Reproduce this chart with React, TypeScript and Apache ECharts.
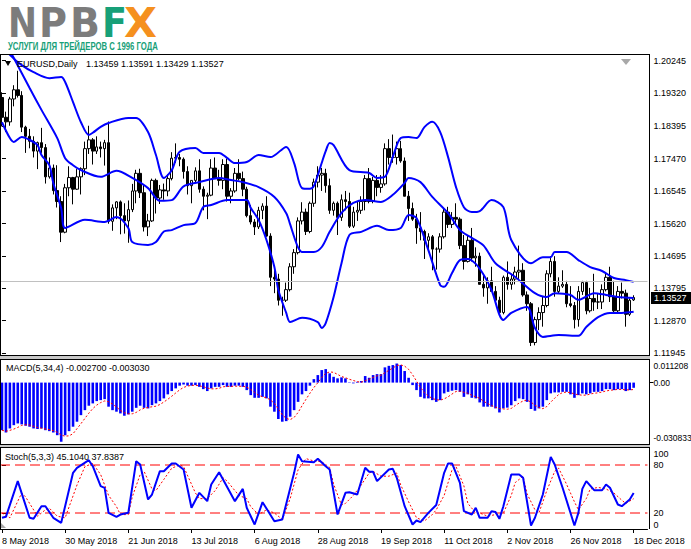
import React, { useEffect, useRef } from 'react';
import * as echarts from 'echarts';

const FONT = '"Liberation Sans", Arial, sans-serif';

const dateLabels = ['8 May 2018', '30 May 2018', '21 Jun 2018', '13 Jul 2018', '6 Aug 2018', '28 Aug 2018', '19 Sep 2018', '11 Oct 2018', '2 Nov 2018', '26 Nov 2018', '18 Dec 2018'];
const priceTicks = ['1.11945', '1.12870', '1.13795', '1.14695', '1.15620', '1.16545', '1.17470', '1.18395', '1.19320', '1.20245'];
const macdTicks = ['-0.030833', '0.00', '0.011208'];
const stochTicks = ['0', '20', '80', '100'];
const stochLevels = [20, 80];
const lastPrice = 1.13527;

// daily candles, [open, high, low, close]
const ohlc = [
  [1.1920, 1.1935, 1.1838, 1.1864], [1.1864, 1.1880, 1.1822, 1.1851], [1.1851, 1.1922, 1.1840, 1.1916], [1.1916, 1.1955, 1.1895, 1.1942],
  [1.1942, 1.1996, 1.1920, 1.1926], [1.1926, 1.1938, 1.1822, 1.1836], [1.1836, 1.1840, 1.1763, 1.1810], [1.1810, 1.1831, 1.1776, 1.1796],
  [1.1796, 1.1810, 1.1750, 1.1768], [1.1768, 1.1795, 1.1717, 1.1792], [1.1792, 1.1834, 1.1763, 1.1778], [1.1778, 1.1788, 1.1676, 1.1695],
  [1.1695, 1.1750, 1.1690, 1.1720], [1.1720, 1.1730, 1.1645, 1.1656], [1.1656, 1.1728, 1.1608, 1.1625], [1.1625, 1.1640, 1.1510, 1.1538],
  [1.1538, 1.1675, 1.1535, 1.1664], [1.1664, 1.1725, 1.1640, 1.1693], [1.1693, 1.1695, 1.1617, 1.1660], [1.1660, 1.1717, 1.1658, 1.1695],
  [1.1695, 1.1722, 1.1645, 1.1718], [1.1718, 1.1795, 1.1700, 1.1775], [1.1775, 1.1840, 1.1760, 1.1800], [1.1800, 1.1805, 1.1730, 1.1768],
  [1.1768, 1.1810, 1.1760, 1.1780], [1.1780, 1.1795, 1.1750, 1.1775], [1.1775, 1.1800, 1.1727, 1.1792], [1.1792, 1.1852, 1.1562, 1.1569],
  [1.1569, 1.1617, 1.1542, 1.1607], [1.1607, 1.1626, 1.1575, 1.1624], [1.1624, 1.1628, 1.1532, 1.1585], [1.1585, 1.1620, 1.1534, 1.1570],
  [1.1570, 1.1628, 1.1508, 1.1602], [1.1602, 1.1675, 1.1595, 1.1655], [1.1655, 1.1715, 1.1620, 1.1705], [1.1705, 1.1718, 1.1635, 1.1650],
  [1.1650, 1.1672, 1.1540, 1.1553], [1.1553, 1.1590, 1.1527, 1.1570], [1.1570, 1.1690, 1.1567, 1.1685], [1.1685, 1.1690, 1.1591, 1.1635],
  [1.1635, 1.1672, 1.1618, 1.1658], [1.1658, 1.1676, 1.1630, 1.1655], [1.1655, 1.1702, 1.1640, 1.1690], [1.1690, 1.1765, 1.1685, 1.1748],
  [1.1748, 1.1790, 1.1735, 1.1750], [1.1750, 1.1760, 1.1725, 1.1745], [1.1745, 1.1750, 1.1690, 1.1710], [1.1710, 1.1725, 1.1645, 1.1670],
  [1.1670, 1.1685, 1.1620, 1.1685], [1.1685, 1.1722, 1.1680, 1.1712], [1.1712, 1.1745, 1.1650, 1.1660], [1.1660, 1.1668, 1.1600, 1.1640],
  [1.1640, 1.1650, 1.1575, 1.1643], [1.1643, 1.1745, 1.1640, 1.1720], [1.1720, 1.1750, 1.1695, 1.1690], [1.1690, 1.1715, 1.1670, 1.1685],
  [1.1685, 1.1745, 1.1660, 1.1730], [1.1730, 1.1747, 1.1625, 1.1640], [1.1640, 1.1663, 1.1620, 1.1655], [1.1655, 1.1720, 1.1650, 1.1705],
  [1.1705, 1.1745, 1.1685, 1.1690], [1.1690, 1.1710, 1.1640, 1.1660], [1.1660, 1.1667, 1.1580, 1.1585], [1.1585, 1.1615, 1.1560, 1.1567],
  [1.1567, 1.1575, 1.1530, 1.1553], [1.1553, 1.1610, 1.1547, 1.1600], [1.1600, 1.1620, 1.1575, 1.1612], [1.1612, 1.1640, 1.1525, 1.1527],
  [1.1527, 1.1535, 1.1385, 1.1410], [1.1410, 1.1430, 1.1365, 1.1405], [1.1405, 1.1420, 1.1330, 1.1345], [1.1345, 1.1355, 1.1301, 1.1345],
  [1.1345, 1.1395, 1.1340, 1.1375], [1.1375, 1.1450, 1.1370, 1.1440], [1.1440, 1.1490, 1.1420, 1.1480], [1.1480, 1.1580, 1.1475, 1.1570],
  [1.1570, 1.1623, 1.1560, 1.1595], [1.1595, 1.1605, 1.1530, 1.1540], [1.1540, 1.1625, 1.1535, 1.1620], [1.1620, 1.1690, 1.1610, 1.1680],
  [1.1680, 1.1725, 1.1665, 1.1700], [1.1700, 1.1720, 1.1655, 1.1705], [1.1705, 1.1718, 1.1650, 1.1670], [1.1670, 1.1690, 1.1590, 1.1600],
  [1.1600, 1.1625, 1.1585, 1.1620], [1.1620, 1.1625, 1.1530, 1.1580], [1.1580, 1.1645, 1.1570, 1.1630], [1.1630, 1.1655, 1.1600, 1.1625],
  [1.1625, 1.1650, 1.1550, 1.1555], [1.1555, 1.1610, 1.1550, 1.1595], [1.1595, 1.1625, 1.1570, 1.1600], [1.1600, 1.1640, 1.1590, 1.1625],
  [1.1625, 1.1700, 1.1600, 1.1690], [1.1690, 1.1720, 1.1620, 1.1625], [1.1625, 1.1695, 1.1620, 1.1685], [1.1685, 1.1700, 1.1640, 1.1665],
  [1.1665, 1.1700, 1.1650, 1.1675], [1.1675, 1.1790, 1.1670, 1.1775], [1.1775, 1.1802, 1.1730, 1.1750], [1.1750, 1.1815, 1.1735, 1.1750],
  [1.1750, 1.1795, 1.1730, 1.1775], [1.1775, 1.1797, 1.1735, 1.1740], [1.1740, 1.1750, 1.1640, 1.1640], [1.1640, 1.1655, 1.1570, 1.1605],
  [1.1605, 1.1622, 1.1570, 1.1575], [1.1575, 1.1590, 1.1505, 1.1550], [1.1550, 1.1595, 1.1515, 1.1540], [1.1540, 1.1545, 1.1462, 1.1515],
  [1.1515, 1.1535, 1.1487, 1.1525], [1.1525, 1.1530, 1.1430, 1.1490], [1.1490, 1.1495, 1.1432, 1.1490], [1.1490, 1.1535, 1.1480, 1.1525],
  [1.1525, 1.1607, 1.1520, 1.1595], [1.1595, 1.1610, 1.1550, 1.1560], [1.1560, 1.1595, 1.1550, 1.1580], [1.1580, 1.1620, 1.1560, 1.1575],
  [1.1575, 1.1580, 1.1490, 1.1500], [1.1500, 1.1530, 1.1432, 1.1455], [1.1455, 1.1530, 1.1452, 1.1515], [1.1515, 1.1550, 1.1455, 1.1465],
  [1.1465, 1.1495, 1.1440, 1.1470], [1.1470, 1.1480, 1.1390, 1.1390], [1.1390, 1.1420, 1.1355, 1.1380], [1.1380, 1.1410, 1.1335, 1.1400],
  [1.1400, 1.1440, 1.1370, 1.1370], [1.1370, 1.1385, 1.1340, 1.1345], [1.1345, 1.1355, 1.1300, 1.1310], [1.1310, 1.1415, 1.1305, 1.1410],
  [1.1410, 1.1455, 1.1375, 1.1390], [1.1390, 1.1420, 1.1375, 1.1405], [1.1405, 1.1440, 1.1390, 1.1425], [1.1425, 1.1500, 1.1405, 1.1430],
  [1.1430, 1.1450, 1.1355, 1.1360], [1.1360, 1.1370, 1.1315, 1.1335], [1.1335, 1.1340, 1.1215, 1.1225], [1.1225, 1.1298, 1.1217, 1.1290],
  [1.1290, 1.1325, 1.1260, 1.1310], [1.1310, 1.1355, 1.1270, 1.1330], [1.1330, 1.1430, 1.1325, 1.1420], [1.1420, 1.1470, 1.1410, 1.1455],
  [1.1455, 1.1470, 1.1355, 1.1370], [1.1370, 1.1410, 1.1365, 1.1385], [1.1385, 1.1430, 1.1380, 1.1390], [1.1390, 1.1400, 1.1325, 1.1335],
  [1.1335, 1.1385, 1.1325, 1.1330], [1.1330, 1.1340, 1.1265, 1.1290], [1.1290, 1.1385, 1.1270, 1.1370], [1.1370, 1.1400, 1.1360, 1.1395],
  [1.1395, 1.1400, 1.1305, 1.1315], [1.1315, 1.1380, 1.1310, 1.1350], [1.1350, 1.1420, 1.1315, 1.1340], [1.1340, 1.1365, 1.1320, 1.1340],
  [1.1340, 1.1390, 1.1320, 1.1375], [1.1375, 1.1425, 1.1370, 1.1410], [1.1410, 1.1440, 1.1340, 1.1355], [1.1355, 1.1400, 1.1310, 1.1315],
  [1.1315, 1.1385, 1.1310, 1.1370], [1.1370, 1.1395, 1.1350, 1.1365], [1.1365, 1.1375, 1.1270, 1.1305], [1.1305, 1.1350, 1.1300, 1.1345],
  [1.13459, 1.13591, 1.13429, 1.13527],
];

// Bollinger bands: [bar index, price]
const bbUpper = [
  [0, 1.2069], [2, 1.2041], [5, 1.2012], [8, 1.1992], [12, 1.1975], [15, 1.1978], [16, 1.1964], [18, 1.1907], [20, 1.1850], [22, 1.1814],
  [23, 1.1820], [25, 1.1837], [27, 1.1848], [32, 1.1862], [34, 1.1862], [37, 1.1822], [39, 1.1757], [41, 1.1692], [43, 1.1714], [45, 1.1766],
  [49, 1.1777], [51, 1.1763], [55, 1.1763], [57, 1.1749], [59, 1.1734], [62, 1.1737], [65, 1.1757], [68, 1.1751], [72, 1.1780], [74, 1.1734],
  [76, 1.1663], [78, 1.1661], [79, 1.1669], [80, 1.1700], [81, 1.1735], [82, 1.1768], [83, 1.1791], [84, 1.1785], [88, 1.1714], [93, 1.1706],
  [95, 1.1692], [97, 1.1695], [99, 1.1752], [101, 1.1805], [103, 1.1808], [105, 1.1805], [107, 1.1836], [109, 1.1851], [111, 1.1822], [113, 1.1751],
  [115, 1.1666], [117, 1.1609], [119, 1.1595], [121, 1.1598], [124, 1.1629], [127, 1.1609], [129, 1.1516], [134, 1.1450], [137, 1.1467], [139, 1.1467],
  [140, 1.1482], [143, 1.1482], [146, 1.1459], [149, 1.1439], [152, 1.1428], [155, 1.1408], [158, 1.1402], [160, 1.1397],
];
const bbMiddle = [
  [0, 1.2095], [3, 1.2032], [7, 1.1947], [10, 1.1885], [14, 1.1805], [16, 1.1748], [18, 1.1728], [20, 1.1714], [25, 1.1695], [29, 1.1712],
  [33, 1.1692], [37, 1.1663], [40, 1.1627], [43, 1.1629], [46, 1.1668], [50, 1.1680], [55, 1.1692], [58, 1.1686], [61, 1.1680], [65, 1.1666],
  [69, 1.1638], [72, 1.1592], [73, 1.1560], [74, 1.1525], [75, 1.1495], [76, 1.1482], [79, 1.1482], [81, 1.1496], [83, 1.1539], [86, 1.1593],
  [89, 1.1621], [92, 1.1629], [96, 1.1624], [99, 1.1644], [102, 1.1678], [103, 1.1692], [106, 1.1680], [109, 1.1638], [113, 1.1592], [116, 1.1544],
  [119, 1.1522], [122, 1.1500], [125, 1.1450], [130, 1.1411], [135, 1.1365], [138, 1.1354], [140, 1.1365], [144, 1.1360], [146, 1.1346], [150, 1.1365],
  [153, 1.1360], [156, 1.1354], [160, 1.1351],
];
const bbLower = [
  [0, 1.1850], [2, 1.1805], [3, 1.1794], [5, 1.1808], [7, 1.1800], [9, 1.1785], [10, 1.1757], [12, 1.1728], [13, 1.1677], [15, 1.1606],
  [16, 1.1550], [21, 1.1573], [26, 1.1567], [29, 1.1581], [32, 1.1550], [33, 1.1510], [37, 1.1502], [39, 1.1510], [41, 1.1540], [43, 1.1544],
  [46, 1.1558], [49, 1.1564], [51, 1.1610], [53, 1.1615], [57, 1.1629], [62, 1.1629], [63, 1.1607], [65, 1.1573], [67, 1.1516], [69, 1.1439],
  [70, 1.1374], [72, 1.1309], [73, 1.1283], [76, 1.1295], [80, 1.1283], [81, 1.1266], [82, 1.1280], [84, 1.1354], [86, 1.1450], [88, 1.1530],
  [91, 1.1539], [95, 1.1556], [98, 1.1544], [101, 1.1550], [103, 1.1587], [105, 1.1578], [108, 1.1487], [111, 1.1388], [112, 1.1383], [114, 1.1422],
  [116, 1.1459], [118, 1.1462], [120, 1.1448], [122, 1.1417], [124, 1.1374], [127, 1.1289], [129, 1.1309], [133, 1.1326], [135, 1.1266], [137, 1.1241],
  [141, 1.1246], [146, 1.1244], [148, 1.1269], [151, 1.1297], [154, 1.1309], [157, 1.1309], [160, 1.1312],
];

// MACD(5,34,4) main values, one per bar
const macdHist = [
  -0.0247, -0.0259, -0.0238, -0.0221, -0.0212, -0.0217, -0.0224, -0.0229, -0.0238, -0.0241,
  -0.0238, -0.0247, -0.0252, -0.0259, -0.0273, -0.0307, -0.0273, -0.0252, -0.0229, -0.0203,
  -0.0169, -0.0143, -0.0120, -0.0108, -0.0096, -0.0091, -0.0086, -0.0125, -0.0143, -0.0151,
  -0.0160, -0.0172, -0.0165, -0.0151, -0.0131, -0.0120, -0.0131, -0.0134, -0.0117, -0.0108,
  -0.0096, -0.0082, -0.0061, -0.0044, -0.0030, -0.0016, -0.0010, -0.0016, -0.0016, -0.0013,
  -0.0022, -0.0034, -0.0044, -0.0030, -0.0022, -0.0022, -0.0013, -0.0022, -0.0022, -0.0016,
  -0.0016, -0.0022, -0.0039, -0.0065, -0.0079, -0.0079, -0.0074, -0.0082, -0.0125, -0.0151,
  -0.0189, -0.0203, -0.0200, -0.0177, -0.0143, -0.0100, -0.0061, -0.0044, -0.0016, 0.0018,
  0.0039, 0.0065, 0.0070, 0.0048, 0.0030, 0.0022, 0.0027, 0.0022, -0.0002, -0.0004,
  0.0004, 0.0008, 0.0034, 0.0025, 0.0039, 0.0044, 0.0044, 0.0079, 0.0087, 0.0091,
  0.0099, 0.0091, 0.0060, 0.0025, -0.0013, -0.0039, -0.0074, -0.0082, -0.0082, -0.0091,
  -0.0100, -0.0091, -0.0056, -0.0048, -0.0042, -0.0039, -0.0048, -0.0074, -0.0061, -0.0079,
  -0.0082, -0.0103, -0.0125, -0.0125, -0.0125, -0.0134, -0.0155, -0.0134, -0.0130, -0.0117,
  -0.0096, -0.0082, -0.0086, -0.0100, -0.0137, -0.0146, -0.0134, -0.0125, -0.0091, -0.0056,
  -0.0051, -0.0051, -0.0048, -0.0048, -0.0061, -0.0079, -0.0065, -0.0056, -0.0061, -0.0056,
  -0.0048, -0.0048, -0.0044, -0.0034, -0.0034, -0.0039, -0.0034, -0.0034, -0.0044, -0.0039, -0.0027,
];

// Stochastic(5,3,3): [bar index, value]
const stochK = [
  [0, 14], [1, 15.2], [4, 59.8], [7, 14], [8, 12.7], [10, 28.5], [11, 28.5], [13, 14], [15, 7.7], [18, 70.2],
  [19, 76.5], [22, 86], [23, 78.5], [25, 53.5], [26, 51.4], [27, 20.2], [29, 15.2], [30, 18.1], [32, 20.2], [34, 84.8],
  [35, 80.6], [37, 36.9], [38, 43.1], [40, 72.3], [41, 72.3], [43, 81.9], [44, 81.9], [46, 74.4], [48, 26.5], [50, 45.2],
  [52, 34.8], [53, 55.6], [55, 71], [59, 34.8], [61, 50.2], [62, 26.5], [64, 5.6], [66, 33.5], [69, 9.8], [71, 11.9],
  [74, 70.2], [75, 93.1], [76, 84.8], [79, 83.5], [80, 87.7], [82, 78.5], [83, 74.4], [85, 18.1], [87, 45.2], [88, 46],
  [90, 43.1], [92, 76.5], [93, 71.5], [94, 71.5], [95, 59.8], [98, 74.4], [99, 75.2], [100, 64], [102, 28.5], [104, 5.6],
  [105, 10.6], [106, 8.5], [108, 20.2], [110, 30], [112, 70.2], [113, 81.9], [114, 81.9], [116, 57.7], [117, 22.3], [119, 18.1],
  [120, 26.5], [121, 14], [123, 14], [124, 22.3], [125, 21.2], [126, 12.7], [127, 28.5], [129, 68.1], [131, 68.1], [132, 64],
  [134, 4.4], [135, 14], [137, 43.1], [139, 90.2], [140, 80.6], [142, 51.5], [145, 4.4], [146, 20.2], [147, 50.2], [148, 59.8],
  [150, 48.5], [152, 48.5], [153, 55.6], [154, 51.5], [156, 30.6], [157, 28.5], [159, 36.9], [160, 45.104],
];
const stochD = [
  [0, 20], [2, 14], [5, 45], [6, 40], [9, 16], [11, 24], [12, 26], [14, 16], [16, 14], [19, 55],
  [21, 78], [23, 82], [25, 68], [27, 42], [29, 28], [30, 18], [32, 18], [33, 40], [35, 68], [36, 72],
  [38, 50], [39, 48], [41, 62], [43, 76], [45, 80], [46, 78], [49, 45], [50, 38], [52, 38], [54, 48],
  [56, 64], [57, 60], [60, 42], [62, 38], [63, 28], [65, 18], [67, 24], [69, 20], [71, 12], [73, 38],
  [75, 74], [77, 88], [79, 85], [81, 84], [83, 77], [84, 56], [86, 30], [87, 32], [89, 42], [91, 55],
  [93, 70], [94, 72], [96, 66], [98, 66], [100, 70], [101, 55], [103, 34], [105, 14], [107, 10], [109, 18],
  [110, 24], [112, 42], [114, 74], [115, 78], [117, 54], [118, 32], [120, 20], [121, 20], [123, 16], [125, 18],
  [126, 18], [127, 20], [129, 42], [130, 58], [132, 66], [133, 44], [135, 24], [136, 20], [138, 48], [140, 72],
  [141, 76], [143, 56], [145, 34], [146, 24], [148, 38], [149, 50], [151, 52], [153, 50], [155, 45], [157, 36],
  [158, 32], [160, 37.8387],
];

const SLOTS = 164;

function measure(text: string, font: string): number {
  const ctx = document.createElement('canvas').getContext('2d');
  if (!ctx) return text.length * 10;
  ctx.font = font;
  return ctx.measureText(text).width;
}

function fitText(text: string, x0: number, x1: number, y: number, font: string, fill: string) {
  const w = measure(text, font);
  return {
    type: 'text', x: x0, y, scaleX: (x1 - x0) / w, z: 200,
    style: { text, font, fill, align: 'left', verticalAlign: 'middle' },
  };
}

export default function App() {
  const ref = useRef<HTMLDivElement>(null);

  useEffect(() => {
    document.body.style.margin = '0';
    if (!ref.current) return;
    const chart = echarts.init(ref.current, undefined, { renderer: 'svg' });

    const cats = Array.from({ length: SLOTS }, (_, i) => String(i));
    const candleData = ohlc.map(([o, h, l, c]) => [o, c, l, h]);
    const macdSignal = macdHist.map((_, i) => {
      const s = macdHist.slice(Math.max(0, i - 3), i + 1);
      return s.reduce((a, b) => a + b, 0) / s.length;
    });
    const priceVals = priceTicks.map(Number);
    const macdVals = macdTicks.map(Number);
    const stochVals = stochTicks.map(Number);
    const isDateTick = (i: number) => i % 16 === 0 && i <= 160;

    const gridW = SLOTS * 3.948;
    const logoFont = 'bold 40px "DejaVu Sans"';
    const gray = '#7c7c7c';
    const green = '#17a078';
    const orange = '#f5901e';
    const smallFont = `9px ${FONT}`;
    const red = '#ff0000';

    const line = (x1: number, y1: number, x2: number, y2: number, stroke = '#000', lw = 1) => ({
      type: 'line', z: 150, shape: { x1, y1, x2, y2 }, style: { stroke, lineWidth: lw },
    });

    const graphic: any[] = [
      fitText('N', 8, 37, 23, logoFont, gray),
      fitText('P', 39, 67, 23, logoFont, gray),
      fitText('B', 70, 100, 23, logoFont, gray),
      fitText('F', 102, 127, 23, logoFont, green),
      fitText('X', 124, 157, 23, logoFont, orange),
      fitText('УСЛУГИ ДЛЯ ТРЕЙДЕРОВ С 1996 ГОДА', 8, 158, 47, `bold 10px ${FONT}`, green),
      line(0, 54.5, 649, 54.5),
      line(0.5, 54, 0.5, 529),
      line(649.5, 54, 649.5, 529),
      line(0, 355.5, 649, 355.5),
      { type: 'rect', z: 150, shape: { x: 0, y: 356, width: 650, height: 3 }, style: { fill: '#c8c8c8' } },
      line(0, 359.5, 649, 359.5),
      line(0, 444.5, 649, 444.5),
      { type: 'rect', z: 150, shape: { x: 0, y: 445, width: 650, height: 2 }, style: { fill: '#c8c8c8' } },
      line(0, 447.5, 649, 447.5),
      { type: 'polygon', z: 200, shape: { points: [[5, 61], [11, 61], [8, 66]] }, style: { fill: '#000' } },
      { type: 'polygon', z: 200, shape: { points: [[621, 59], [631, 59], [626, 65]] }, style: { fill: '#a8a8a8' } },
      { type: 'polygon', z: 200, shape: { points: [[1, 523], [1, 528], [6, 528]] }, style: { fill: '#a8a8a8' } },
      { type: 'text', z: 200, x: 17, y: 64, style: { text: 'EURUSD,Daily', font: smallFont, fill: '#000', verticalAlign: 'middle' } },
      { type: 'text', z: 200, x: 86, y: 64, style: { text: '1.13459 1.13591 1.13429 1.13527', font: smallFont, fill: '#000', verticalAlign: 'middle' } },
      { type: 'text', z: 200, x: 6, y: 368, style: { text: 'MACD(5,34,4) -0.002700 -0.003030', font: smallFont, fill: '#000', verticalAlign: 'middle' } },
      { type: 'text', z: 200, x: 5, y: 457, style: { text: 'Stoch(5,3,3) 45.1040 37.8387', font: smallFont, fill: '#000', verticalAlign: 'middle' } },
      { type: 'rect', z: 210, shape: { x: 651, y: 292, width: 40, height: 12 }, style: { fill: '#000' } },
      { type: 'text', z: 211, x: 654, y: 298, style: { text: '1.13527', font: smallFont, fill: '#fff', verticalAlign: 'middle' } },
    ];

    const yAxisOf = (gridIndex: number, min: number, max: number, vals: number[], tickVals: number[], fmt: (v: number) => string, fontSize: number, edgeAlign: boolean) => ({
      gridIndex, type: 'value', position: 'right', min, max, offset: 2,
      splitLine: { show: false }, axisLine: { show: false },
      axisTick: { show: true, customValues: tickVals, length: 4, lineStyle: { color: '#000' } },
      axisLabel: {
        customValues: vals, formatter: fmt, fontSize, color: '#000', margin: 4, fontFamily: FONT,
        hideOverlap: false, showMinLabel: true, showMaxLabel: true,
        ...(edgeAlign ? { verticalAlignMinLabel: 'bottom', verticalAlignMaxLabel: 'top' } : {}),
      },
    });

    const levelSeries = stochLevels.map((v) => ({
      type: 'line', xAxisIndex: 4, yAxisIndex: 2, silent: true, showSymbol: false, z: 3,
      data: [[-0.5, v], [SLOTS - 0.5, v]],
      lineStyle: { color: red, width: 1, type: [10, 5] },
      itemStyle: { color: red },
    }));

    chart.setOption({
      animation: false,
      textStyle: { fontFamily: FONT },
      grid: [
        { left: 0, top: 55, width: gridW, height: 300, outerBoundsMode: 'none' },
        { left: 0, top: 361, width: gridW, height: 81, outerBoundsMode: 'none' },
        { left: 0, top: 449, width: gridW, height: 80, outerBoundsMode: 'none' },
      ],
      xAxis: [
        { type: 'category', gridIndex: 0, data: cats, show: false },
        { type: 'value', gridIndex: 0, min: -0.5, max: SLOTS - 0.5, show: false },
        { type: 'category', gridIndex: 1, data: cats, show: false },
        {
          type: 'category', gridIndex: 2, data: cats,
          axisLine: { show: true, lineStyle: { color: '#000' } },
          axisTick: { show: true, interval: (i: number) => isDateTick(i), alignWithLabel: true, length: 4, lineStyle: { color: '#000' } },
          axisLabel: {
            interval: (i: number) => isDateTick(i), formatter: (_v: string, i: number) => dateLabels[i / 16] ?? '',
            align: 'left', margin: 7, fontSize: 9, color: '#000', fontFamily: FONT,
          },
          splitLine: { show: false },
        },
        { type: 'value', gridIndex: 2, min: -0.5, max: SLOTS - 0.5, show: false },
      ],
      yAxis: [
        yAxisOf(0, 1.11896, 1.20407, priceVals, priceVals, (v: number) => v.toFixed(5), 9, false),
        yAxisOf(1, -0.030833, 0.011208, macdVals, [0], (v: number) => (v === 0 ? '0.00' : v.toFixed(6)), 8.5, true),
        yAxisOf(2, 0, 100, stochVals, stochLevels, (v: number) => String(v), 9, true),
      ],
      series: [
        {
          type: 'candlestick', xAxisIndex: 0, yAxisIndex: 0, data: candleData, barWidth: 3, z: 3,
          itemStyle: { color: '#ffffff', color0: '#000000', borderColor: '#000000', borderColor0: '#000000', borderWidth: 1 },
          markLine: {
            silent: true, symbol: 'none', label: { show: false },
            lineStyle: { color: '#c0c0c0', type: 'solid', width: 1 },
            data: [{ yAxis: lastPrice }],
          },
        },
        { type: 'line', xAxisIndex: 1, yAxisIndex: 0, data: bbUpper, showSymbol: false, smooth: 0.3, z: 4, lineStyle: { color: '#0000ff', width: 2 } },
        { type: 'line', xAxisIndex: 1, yAxisIndex: 0, data: bbMiddle, showSymbol: false, smooth: 0.3, z: 4, lineStyle: { color: '#0000ff', width: 2 } },
        { type: 'line', xAxisIndex: 1, yAxisIndex: 0, data: bbLower, showSymbol: false, smooth: 0.3, z: 4, lineStyle: { color: '#0000ff', width: 2 } },
        { type: 'bar', xAxisIndex: 2, yAxisIndex: 1, data: macdHist, barWidth: 2.6, itemStyle: { color: '#0000ff' } },
        { type: 'line', xAxisIndex: 2, yAxisIndex: 1, data: macdSignal, showSymbol: false, z: 5, lineStyle: { color: red, width: 1, type: [2, 2] } },
        ...levelSeries,
        { type: 'line', xAxisIndex: 4, yAxisIndex: 2, data: stochK, showSymbol: false, z: 5, lineStyle: { color: '#0000ff', width: 2 } },
        { type: 'line', xAxisIndex: 4, yAxisIndex: 2, data: stochD, showSymbol: false, z: 4, lineStyle: { color: red, width: 1, type: [2, 2] } },
      ],
      graphic,
    });

    return () => chart.dispose();
  }, []);

  return <div ref={ref} style={{ position: 'absolute', left: 0, top: 0, width: 691, height: 549, background: '#fff' }} />;
}
